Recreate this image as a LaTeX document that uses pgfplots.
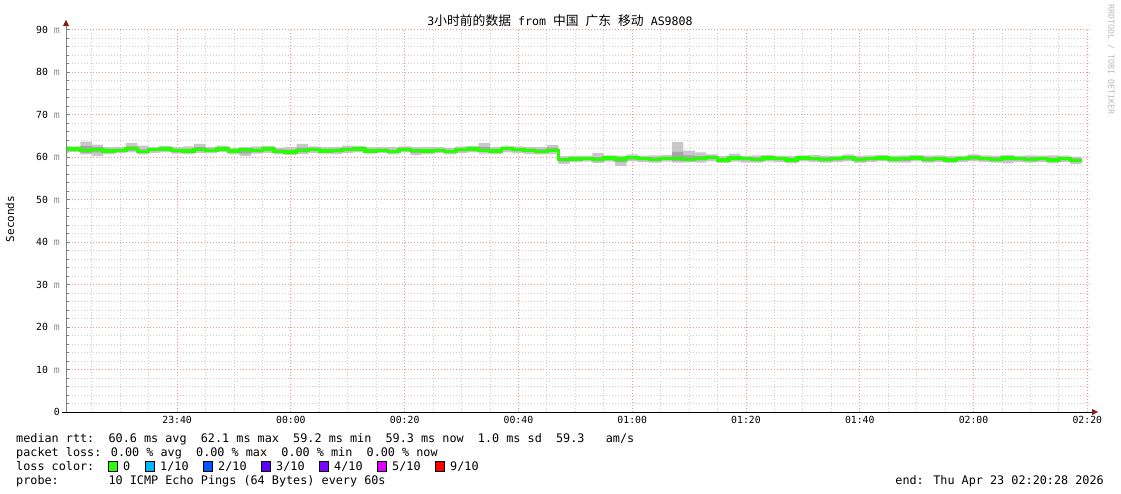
\documentclass[border=0pt]{standalone}
\usepackage{fontspec}
\setmainfont{DejaVu Sans Mono}
\newfontfamily\cjk{Noto Sans CJK SC}
\usepackage{pgfplots}
\usepackage{pgfplotstable}
\pgfplotsset{compat=1.18}
\usepgfplotslibrary{fillbetween}

\definecolor{loss0}{HTML}{26FF00}
\definecolor{loss1}{HTML}{00B8FF}
\definecolor{loss2}{HTML}{0059FF}
\definecolor{loss3}{HTML}{5E00FF}
\definecolor{loss4}{HTML}{7E00FF}
\definecolor{loss5}{HTML}{DD00FF}
\definecolor{loss9}{HTML}{FF0000}
\definecolor{smoke}{HTML}{C8C8C8}
\definecolor{smokedark}{HTML}{A6A6A6}
\definecolor{gridred}{HTML}{FF9090}
\definecolor{gridgrey}{HTML}{CFCFCF}
\definecolor{mgray}{HTML}{8A8A8A}
\definecolor{arrowred}{HTML}{8B1A1A}

% minutes after 00:00: median, outer smoke (lo/hi), inner smoke (dl/dh), ms
\pgfplotstableread{
x    med  lo   hi   dl   dh
-41  61.7 60.9 62.6 61.3 62.1
-39  61.9 61.2 62.5 61.5 62.2
-37  61.5 60.6 63.6 61.0 62.6
-35  61.7 60.2 62.9 61.1 62.3
-33  61.4 60.7 62.3 61.0 61.9
-31  61.6 60.9 62.4 61.2 62.0
-29  62.0 61.1 63.3 61.5 62.5
-27  61.3 60.6 62.7 60.9 61.8
-25  61.8 61.0 62.4 61.4 62.1
-23  61.9 61.1 62.6 61.5 62.2
-21  61.5 60.8 62.3 61.1 61.9
-19  61.4 60.7 62.5 61.0 61.9
-17  61.8 61.0 63.1 61.4 62.3
-15  61.6 60.9 62.4 61.2 62.0
-13  61.9 61.2 62.7 61.5 62.2
-11  61.4 60.6 62.2 61.0 61.8
-9   61.7 60.2 62.4 60.8 62.0
-7   61.5 60.8 62.5 61.1 62.0
-5   61.9 61.0 62.6 61.4 62.2
-3   61.3 60.6 62.2 60.9 61.8
-1   61.2 60.5 62.4 60.9 61.7
1    61.6 60.7 63.1 61.1 62.2
3    61.8 61.0 62.5 61.4 62.2
5    61.4 60.8 62.4 61.1 61.9
7    61.6 60.7 62.3 61.1 62.0
9    61.8 61.0 62.7 61.4 62.2
11   61.9 61.1 62.6 61.5 62.3
13   61.4 60.8 62.3 61.1 61.8
15   61.6 61.0 62.4 61.2 62.0
17   61.3 60.6 62.3 60.9 61.7
19   61.8 61.1 62.5 61.4 62.2
21   61.5 60.5 62.3 61.0 61.9
23   61.4 60.7 62.4 61.0 61.8
25   61.6 60.9 62.3 61.2 62.0
27   61.3 60.6 62.2 60.9 61.7
29   61.7 61.0 62.5 61.3 62.1
31   61.9 61.1 62.6 61.5 62.3
33   61.6 60.8 63.3 61.2 62.4
35   61.4 60.7 62.4 61.0 61.9
37   62.0 61.1 62.6 61.6 62.3
39   61.7 60.9 62.5 61.3 62.1
41   61.6 60.7 62.3 61.2 62.0
43   61.3 60.6 62.3 60.9 61.8
45   61.6 60.7 62.8 61.2 62.2
47   59.4 58.4 60.2 58.9 59.8
49   59.5 58.8 60.3 59.1 59.9
51   59.7 58.9 60.3 59.3 60.0
53   59.4 58.6 60.9 59.0 60.0
55   59.8 58.9 60.4 59.4 60.1
57   59.5 57.9 60.3 58.8 59.9
59   59.9 59.0 60.6 59.4 60.2
61   59.6 58.8 60.3 59.2 60.0
63   59.4 58.7 60.4 59.0 59.9
65   59.7 58.9 60.5 59.3 60.1
67   59.6 58.7 63.5 59.1 61.2
69   59.4 58.8 61.5 59.0 60.4
71   59.7 58.7 61.1 59.2 60.2
73   59.9 59.0 60.6 59.5 60.3
75   59.3 58.6 60.2 58.9 59.8
77   59.8 58.9 60.8 59.3 60.2
79   59.6 58.7 60.3 59.2 60.0
81   59.4 58.7 60.4 59.0 59.9
83   59.8 58.9 60.5 59.3 60.1
85   59.6 58.8 60.3 59.2 60.0
87   59.3 58.5 60.2 58.9 59.8
89   59.8 59.0 60.4 59.3 60.1
91   59.6 58.8 60.5 59.2 60.0
93   59.4 58.7 60.3 59.0 59.9
95   59.6 58.8 60.3 59.2 60.0
97   59.9 59.0 60.6 59.4 60.2
99   59.4 58.6 60.3 59.0 59.9
101  59.6 58.8 60.4 59.2 60.0
103  59.8 59.0 60.5 59.3 60.1
105  59.5 58.7 60.3 59.1 59.9
107  59.6 58.7 60.4 59.1 60.0
109  59.8 59.0 60.5 59.3 60.2
111  59.4 58.7 60.3 59.0 59.9
113  59.6 58.8 60.4 59.2 60.0
115  59.3 58.6 60.2 58.9 59.8
117  59.6 58.8 60.3 59.2 60.0
119  59.9 59.0 60.6 59.4 60.3
121  59.6 58.8 60.4 59.2 60.0
123  59.4 58.7 60.3 59.0 59.9
125  59.8 58.5 60.5 59.2 60.1
127  59.6 58.8 60.3 59.2 60.0
129  59.4 58.7 60.4 59.0 59.9
131  59.6 58.8 60.3 59.2 60.0
133  59.3 58.5 60.4 58.9 59.8
135  59.6 58.8 60.3 59.2 60.0
137  59.2 58.3 60.1 58.8 59.7
139  59.2 58.3 60.1 58.8 59.7
}\rtt

\begin{document}
\begin{tikzpicture}

\begin{axis}[
  at={(66pt,-412pt)}, anchor=south west,
  scale only axis, width=1024pt, height=382.5pt,
  xmin=-39.53, xmax=140.47, ymin=0, ymax=90,
  axis lines=left, axis line style={-},
  x axis line style={black, line width=0.8pt},
  y axis line style={gray, line width=0.8pt},
  xtick={-20,0,20,40,60,80,100,120,140},
  xticklabels={23:40,00:00,00:20,00:40,01:00,01:20,01:40,02:00,02:20},
  minor xtick={-35,-30,-25,-15,-10,-5,5,10,15,25,30,35,45,50,55,65,70,75,85,90,95,105,110,115,125,130,135},
  ytick={0,10,...,90},
  yticklabels={0,{10 \textcolor{mgray}{m}},{20 \textcolor{mgray}{m}},{30 \textcolor{mgray}{m}},{40 \textcolor{mgray}{m}},{50 \textcolor{mgray}{m}},{60 \textcolor{mgray}{m}},{70 \textcolor{mgray}{m}},{80 \textcolor{mgray}{m}},{90 \textcolor{mgray}{m}}},
  minor ytick={2,4,6,8,12,14,16,18,22,24,26,28,32,34,36,38,42,44,46,48,52,54,56,58,62,64,66,68,72,74,76,78,82,84,86,88},
  grid=both,
  major grid style={gridred, line width=0.8pt, dash pattern=on 0.8pt off 2.2pt},
  minor grid style={gridgrey, line width=0.8pt, dash pattern=on 0.8pt off 2.2pt},
  xtick style={draw=none},
  ytick style={gray, line width=0.8pt},
  tick align=inside, major tick length=4pt, minor tick length=2.5pt,
  ticklabel style={font=\fontsize{9.8}{10}\selectfont, inner sep=0pt},
  xticklabel style={yshift=-4pt},
  yticklabel style={xshift=-6pt},
]
% smoke: spread of the 10 pings
\addplot[name path=hi, const plot, draw=none] table[x=x, y=hi] {\rtt};
\addplot[name path=lo, const plot, draw=none] table[x=x, y=lo] {\rtt};
\addplot[smoke] fill between[of=hi and lo];
\addplot[name path=dh, const plot, draw=none] table[x=x, y=dh] {\rtt};
\addplot[name path=dl, const plot, draw=none] table[x=x, y=dl] {\rtt};
\addplot[smokedark] fill between[of=dh and dl];
% median, coloured by loss (all 0)
\addplot[const plot, loss0, line width=3.4pt] table[x=x, y=med] {\rtt};
\end{axis}

\begin{scope}[x=1pt, y=-1pt]
  % axis extensions and arrow heads
  \draw[gray, line width=0.8pt] (66,412) -- (66,25);
  \fill[arrowred] (63,26) -- (69,26) -- (66,20) -- cycle;
  \draw[black, line width=0.8pt] (62,412) -- (1093,412);
  \fill[arrowred] (1092,409) -- (1092,415) -- (1098,412) -- cycle;

  % title and labels
  \node[font=\fontsize{11.6}{13}\selectfont] at (560,21)
    {3{\cjk\fontsize{12.8}{13}\selectfont 小时前的数据} from {\cjk\fontsize{12.8}{13}\selectfont 中国} {\cjk\fontsize{12.8}{13}\selectfont 广东} {\cjk\fontsize{12.8}{13}\selectfont 移动} AS9808};
  \node[rotate=90, font=\fontsize{11}{12}\selectfont] at (10,219) {Seconds};
  \node[rotate=-90, anchor=west, inner sep=0pt, text=gray!55, font=\fontsize{8.3}{9}\selectfont] at (1111,4) {RRDTOOL / TOBI OETIKER};

  % legend block
  \begin{scope}[every node/.style={anchor=base west, inner sep=0pt, font=\fontsize{11.8}{14}\selectfont}]
    \node at (16,442) {median rtt:~~60.6 ms avg~~62.1 ms max~~59.2 ms min~~59.3 ms now~~1.0 ms sd~~59.3~~~am/s};
    \node at (16,456) {packet loss: 0.00 \% avg~~0.00 \% max~~0.00 \% min~~0.00 \% now};
    \node at (16,470) {loss color:};
    \foreach \bx/\col/\lab in {108/loss0/0, 145/loss1/1\slash 10, 203/loss2/2\slash 10, 261/loss3/3\slash 10, 319/loss4/4\slash 10, 377/loss5/5\slash 10, 435/loss9/9\slash 10} {
      \draw[fill=\col, line width=0.8pt] (\bx+0.5,461.5) rectangle (\bx+9.5,471.5);
      \node at (\bx+15,470) {\lab};
    }
    \node at (16,484) {probe:~~~~~~~10 ICMP Echo Pings (64 Bytes) every 60s};
    \node[anchor=base east] at (1104,484) {end: Thu Apr 23 02:20:28 2026};
  \end{scope}

  % fix the page to the reference's frame
  \pgfresetboundingbox
  \useasboundingbox (0,0) rectangle (1121,494);
\end{scope}
\end{tikzpicture}
\end{document}
